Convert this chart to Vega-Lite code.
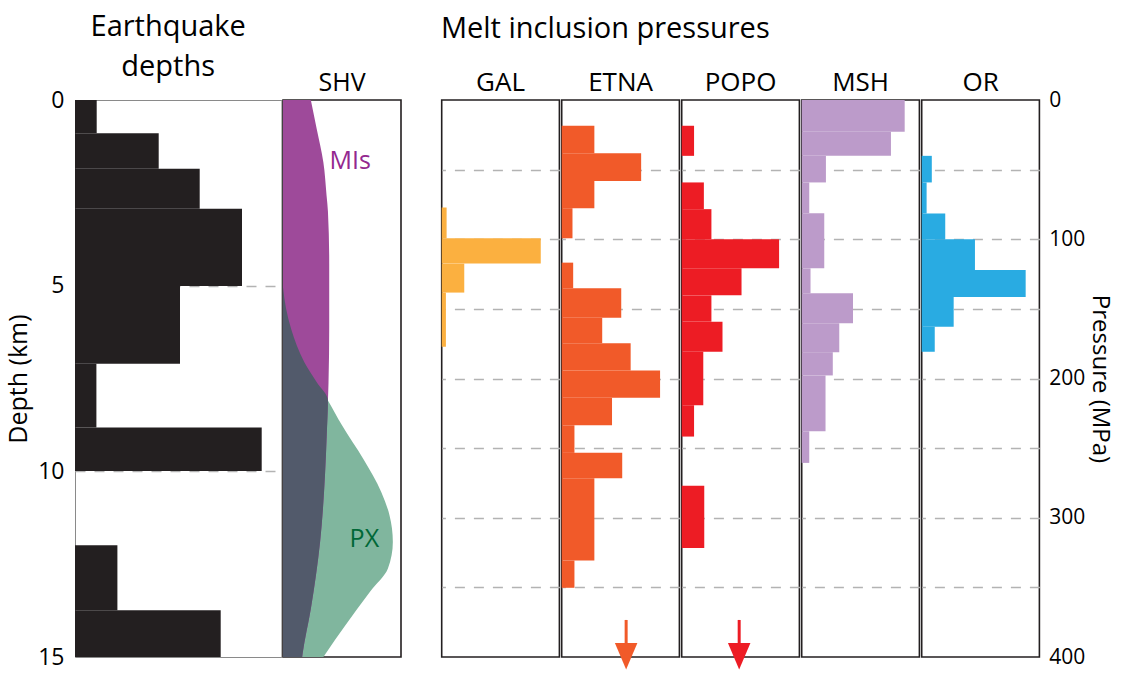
{
  "$schema": "https://vega.github.io/schema/vega-lite/v6.json",
  "background": "white",
  "padding": {"left": 6, "top": 12, "right": 2, "bottom": 5},
  "config": {
    "font": "Open Sans",
    "view": {"stroke": "#231f20", "strokeWidth": 1.6},
    "axis": {"labelFont": "Open Sans", "titleFont": "Open Sans", "labelColor": "#000", "titleColor": "#000", "titleFontWeight": "normal"},
    "title": {"font": "Open Sans", "fontWeight": "normal", "color": "#000"},
    "header": {"labelFont": "Open Sans", "labelColor": "#000"}
  },
  "resolve": {"scale": {"color": "independent"}},
  "spacing": 38.7,
  "hconcat": [
    {
      "spacing": 0,
      "hconcat": [
        {
          "width": 206.4,
          "height": 557,
          "view": {"stroke": "#8a8a8a", "strokeWidth": 1},
          "title": {"text": ["Earthquake", "depths"], "fontSize": 29, "lineHeight": 40, "anchor": "middle", "dx": -10, "offset": 7},
          "data": {"values": [
            {"top": 0, "bottom": 0.894, "count": 21.7},
            {"top": 0.894, "bottom": 1.852, "count": 83.7},
            {"top": 1.852, "bottom": 2.929, "count": 124.7},
            {"top": 2.929, "bottom": 5.01, "count": 167},
            {"top": 5.01, "bottom": 7.1, "count": 105},
            {"top": 7.1, "bottom": 8.82, "count": 21.4},
            {"top": 8.82, "bottom": 9.99, "count": 186.7},
            {"top": 11.99, "bottom": 13.74, "count": 42.4},
            {"top": 13.74, "bottom": 15, "count": 145.7}
          ]},
          "mark": {"type": "rect", "color": "#231f20"},
          "encoding": {
            "y": {"field": "top", "type": "quantitative",
              "scale": {"domain": [0, 15], "reverse": true, "nice": false},
              "axis": {"values": [0, 5, 10, 15], "title": "Depth (km)", "titleFontSize": 25, "labelFontSize": 23,
                "ticks": false, "domain": false, "labelPadding": 11, "titlePadding": 6,
                "grid": true, "gridDash": [10, 9], "gridColor": "#b3b3b3", "gridWidth": 1.3,
                "gridOpacity": {"condition": {"test": "datum.value == 0 || datum.value == 15", "value": 0}, "value": 1}}},
            "y2": {"field": "bottom"},
            "x": {"field": "count", "type": "quantitative", "scale": {"domain": [0, 206.4]}, "axis": null},
            "x2": {"datum": 0}
          }
        },
        {
          "width": 118,
          "height": 557,
          "title": {"text": "SHV", "fontSize": 25, "offset": 4},
          "data": {"values": [
            {"shape": "PX", "depth": 5.04, "w": 0},
            {"shape": "PX", "depth": 5.6, "w": 3},
            {"shape": "PX", "depth": 6.17, "w": 8.3},
            {"shape": "PX", "depth": 7.06, "w": 21.7},
            {"shape": "PX", "depth": 7.6, "w": 34.3},
            {"shape": "PX", "depth": 8.09, "w": 45.7},
            {"shape": "PX", "depth": 8.76, "w": 60},
            {"shape": "PX", "depth": 9.67, "w": 81.7},
            {"shape": "PX", "depth": 10.56, "w": 100},
            {"shape": "PX", "depth": 11.18, "w": 108.3},
            {"shape": "PX", "depth": 11.9, "w": 111.7},
            {"shape": "PX", "depth": 12.62, "w": 106.7},
            {"shape": "PX", "depth": 13.25, "w": 88.3},
            {"shape": "PX", "depth": 14.15, "w": 63.3},
            {"shape": "PX", "depth": 14.91, "w": 43.3},
            {"shape": "PX", "depth": 15, "w": 41},
            {"shape": "MIs", "depth": 0, "w": 28.3},
            {"shape": "MIs", "depth": 0.78, "w": 34.3},
            {"shape": "MIs", "depth": 1.67, "w": 41},
            {"shape": "MIs", "depth": 2.57, "w": 44.3},
            {"shape": "MIs", "depth": 3.0, "w": 45.7},
            {"shape": "MIs", "depth": 4.4, "w": 47},
            {"shape": "MIs", "depth": 6.15, "w": 47},
            {"shape": "MIs", "depth": 7.6, "w": 46.3},
            {"shape": "MIs", "depth": 8.09, "w": 45.7},
            {"shape": "MIs", "depth": 9.0, "w": 44.5},
            {"shape": "MIs", "depth": 10.1, "w": 42.7},
            {"shape": "MIs", "depth": 11.9, "w": 37.7},
            {"shape": "MIs", "depth": 13.7, "w": 28.3},
            {"shape": "MIs", "depth": 14.9, "w": 20},
            {"shape": "MIs", "depth": 15, "w": 19.5},
            {"shape": "both", "depth": 5.04, "w": 0},
            {"shape": "both", "depth": 5.6, "w": 3},
            {"shape": "both", "depth": 6.17, "w": 8.3},
            {"shape": "both", "depth": 7.06, "w": 21.7},
            {"shape": "both", "depth": 7.6, "w": 34.3},
            {"shape": "both", "depth": 8.09, "w": 45.7},
            {"shape": "both", "depth": 9.0, "w": 44.5},
            {"shape": "both", "depth": 10.1, "w": 42.7},
            {"shape": "both", "depth": 11.9, "w": 37.7},
            {"shape": "both", "depth": 13.7, "w": 28.3},
            {"shape": "both", "depth": 14.9, "w": 20},
            {"shape": "both", "depth": 15, "w": 19.5}
          ]},
          "layer": [
            {
              "transform": [{"filter": "datum.shape === 'PX'"}],
              "mark": {"type": "area", "orient": "horizontal", "interpolate": "monotone", "color": "#80b69e", "opacity": 1},
              "encoding": {
                "y": {"field": "depth", "type": "quantitative", "scale": {"domain": [0, 15], "reverse": true, "nice": false}, "axis": null},
                "x": {"field": "w", "type": "quantitative", "scale": {"domain": [0, 118]}, "axis": null}
              }
            },
            {
              "transform": [{"filter": "datum.shape === 'MIs'"}],
              "mark": {"type": "area", "orient": "horizontal", "interpolate": "monotone", "color": "#9e4a9a", "opacity": 1},
              "encoding": {
                "y": {"field": "depth", "type": "quantitative"},
                "x": {"field": "w", "type": "quantitative"}
              }
            },
            {
              "transform": [{"filter": "datum.shape === 'both'"}],
              "mark": {"type": "area", "orient": "horizontal", "interpolate": "monotone", "color": "#525a6b", "opacity": 1},
              "encoding": {
                "y": {"field": "depth", "type": "quantitative"},
                "x": {"field": "w", "type": "quantitative"}
              }
            },
            {
              "data": {"values": [
                {"label": "MIs", "depth": 1.63, "w": 68.3}
              ]},
              "mark": {"type": "text", "fontSize": 25, "align": "center", "baseline": "middle", "color": "#93278f"},
              "encoding": {
                "y": {"field": "depth", "type": "quantitative"},
                "x": {"field": "w", "type": "quantitative"},
                "text": {"field": "label"}
              }
            },
            {
              "data": {"values": [
                {"label": "PX", "depth": 11.81, "w": 82.7}
              ]},
              "mark": {"type": "text", "fontSize": 25, "align": "center", "baseline": "middle", "color": "#006837"},
              "encoding": {
                "y": {"field": "depth", "type": "quantitative"},
                "x": {"field": "w", "type": "quantitative"},
                "text": {"field": "label"}
              }
            }
          ]
        }
      ]
    },
    {
      "title": {"text": "Melt inclusion pressures", "fontSize": 29, "offset": 26},
      "data": {"values": [
        {"volcano": "GAL", "kind": "bar", "p1": 77.2, "p2": 99.3, "freq": 5},
        {"volcano": "GAL", "kind": "bar", "p1": 99.3, "p2": 117.5, "freq": 101},
        {"volcano": "GAL", "kind": "bar", "p1": 117.5, "p2": 138.3, "freq": 23},
        {"volcano": "GAL", "kind": "bar", "p1": 138.3, "p2": 177.2, "freq": 4.3},
        {"volcano": "ETNA", "kind": "bar", "p1": 18.5, "p2": 38.3, "freq": 33.3},
        {"volcano": "ETNA", "kind": "bar", "p1": 38.3, "p2": 58.1, "freq": 81},
        {"volcano": "ETNA", "kind": "bar", "p1": 58.1, "p2": 77.7, "freq": 33.3},
        {"volcano": "ETNA", "kind": "bar", "p1": 77.7, "p2": 99.3, "freq": 11},
        {"volcano": "ETNA", "kind": "bar", "p1": 116.8, "p2": 135.2, "freq": 11.7},
        {"volcano": "ETNA", "kind": "bar", "p1": 135.2, "p2": 156.3, "freq": 60.7},
        {"volcano": "ETNA", "kind": "bar", "p1": 156.3, "p2": 174.6, "freq": 41.3},
        {"volcano": "ETNA", "kind": "bar", "p1": 174.6, "p2": 194.2, "freq": 70.3},
        {"volcano": "ETNA", "kind": "bar", "p1": 194.2, "p2": 213.9, "freq": 100.3},
        {"volcano": "ETNA", "kind": "bar", "p1": 213.9, "p2": 233.6, "freq": 51.3},
        {"volcano": "ETNA", "kind": "bar", "p1": 233.6, "p2": 253.4, "freq": 13},
        {"volcano": "ETNA", "kind": "bar", "p1": 253.4, "p2": 271.7, "freq": 61.7},
        {"volcano": "ETNA", "kind": "bar", "p1": 271.7, "p2": 330.7, "freq": 33.3},
        {"volcano": "ETNA", "kind": "bar", "p1": 330.7, "p2": 350.3, "freq": 13},
        {"volcano": "POPO", "kind": "bar", "p1": 18.5, "p2": 40.1, "freq": 12.6},
        {"volcano": "POPO", "kind": "bar", "p1": 59.2, "p2": 78.4, "freq": 22.6},
        {"volcano": "POPO", "kind": "bar", "p1": 78.4, "p2": 100, "freq": 30.3},
        {"volcano": "POPO", "kind": "bar", "p1": 100, "p2": 120.9, "freq": 99.3},
        {"volcano": "POPO", "kind": "bar", "p1": 120.9, "p2": 140.3, "freq": 61},
        {"volcano": "POPO", "kind": "bar", "p1": 140.3, "p2": 159.2, "freq": 30.3},
        {"volcano": "POPO", "kind": "bar", "p1": 159.2, "p2": 180.8, "freq": 41.6},
        {"volcano": "POPO", "kind": "bar", "p1": 180.8, "p2": 219.2, "freq": 22},
        {"volcano": "POPO", "kind": "bar", "p1": 219.2, "p2": 241.7, "freq": 12.6},
        {"volcano": "POPO", "kind": "bar", "p1": 277, "p2": 321.8, "freq": 23},
        {"volcano": "MSH", "kind": "bar", "p1": 0, "p2": 22.8, "freq": 105},
        {"volcano": "MSH", "kind": "bar", "p1": 22.8, "p2": 40.1, "freq": 91},
        {"volcano": "MSH", "kind": "bar", "p1": 40.1, "p2": 59.2, "freq": 24.7},
        {"volcano": "MSH", "kind": "bar", "p1": 59.2, "p2": 81.3, "freq": 7.7},
        {"volcano": "MSH", "kind": "bar", "p1": 81.3, "p2": 120.9, "freq": 23},
        {"volcano": "MSH", "kind": "bar", "p1": 120.9, "p2": 138.8, "freq": 9},
        {"volcano": "MSH", "kind": "bar", "p1": 138.8, "p2": 160.4, "freq": 52.3},
        {"volcano": "MSH", "kind": "bar", "p1": 160.4, "p2": 181.1, "freq": 38.3},
        {"volcano": "MSH", "kind": "bar", "p1": 181.1, "p2": 197.8, "freq": 31.7},
        {"volcano": "MSH", "kind": "bar", "p1": 197.8, "p2": 237.9, "freq": 24.3},
        {"volcano": "MSH", "kind": "bar", "p1": 237.9, "p2": 260.6, "freq": 7.7},
        {"volcano": "OR", "kind": "bar", "p1": 40.1, "p2": 59.2, "freq": 10.3},
        {"volcano": "OR", "kind": "bar", "p1": 59.2, "p2": 81.5, "freq": 5},
        {"volcano": "OR", "kind": "bar", "p1": 81.5, "p2": 100, "freq": 24},
        {"volcano": "OR", "kind": "bar", "p1": 100, "p2": 122.1, "freq": 54.3},
        {"volcano": "OR", "kind": "bar", "p1": 122.1, "p2": 141.5, "freq": 106},
        {"volcano": "OR", "kind": "bar", "p1": 141.5, "p2": 162.8, "freq": 32.6},
        {"volcano": "OR", "kind": "bar", "p1": 162.8, "p2": 180.8, "freq": 13.3},
        {"volcano": "ETNA", "kind": "arrow", "p1": 373.4, "p2": 392, "ph": 399.5, "freq": 65.7},
        {"volcano": "POPO", "kind": "arrow", "p1": 373.4, "p2": 392, "ph": 399.5, "freq": 58.6}
      ]},
      "spacing": 0,
      "facet": {
        "column": {"field": "volcano", "type": "nominal", "sort": ["GAL", "ETNA", "POPO", "MSH", "OR"],
          "header": {"title": null, "labelFontSize": 26, "labelPadding": 3, "labelOrient": "top"}}
      },
      "spec": {
        "width": 117.7,
        "height": 557,
        "layer": [
          {
            "transform": [{"filter": "datum.kind === 'bar'"}],
            "mark": {"type": "rect"},
            "encoding": {
              "y": {"field": "p1", "type": "quantitative",
                "scale": {"domain": [0, 400], "reverse": true, "nice": false},
                "axis": {"orient": "right", "values": [0, 50, 100, 150, 200, 250, 300, 350, 400],
                  "labelExpr": "datum.value % 100 === 0 ? datum.label : ''",
                  "title": "Pressure (MPa)", "titleFontSize": 24, "labelFontSize": 21,
                  "ticks": false, "domain": false, "labelPadding": 8, "titlePadding": 3,
                  "grid": true, "gridDash": [10, 9], "gridColor": "#b3b3b3", "gridWidth": 1.3,
                  "gridOpacity": {"condition": {"test": "datum.value == 0 || datum.value == 400", "value": 0}, "value": 1}}},
              "y2": {"field": "p2"},
              "x": {"field": "freq", "type": "quantitative", "scale": {"domain": [0, 117.7]}, "axis": null},
              "x2": {"datum": 0},
              "color": {"field": "volcano", "type": "nominal",
                "scale": {"domain": ["GAL", "ETNA", "POPO", "MSH", "OR"], "range": ["#fbb040", "#f15a29", "#ed1c24", "#bc9bca", "#29abe2"]},
                "legend": null}
            }
          },
          {
            "transform": [{"filter": "datum.kind === 'arrow'"}],
            "mark": {"type": "rule", "strokeWidth": 3},
            "encoding": {
              "x": {"field": "freq", "type": "quantitative"},
              "y": {"field": "p1", "type": "quantitative"},
              "y2": {"field": "p2"},
              "color": {"field": "volcano", "type": "nominal"}
            }
          },
          {
            "transform": [{"filter": "datum.kind === 'arrow'"}],
            "mark": {"type": "point", "filled": true, "opacity": 1, "shape": "M-0.85,-1L0.85,-1L0,1Z", "size": 700},
            "encoding": {
              "x": {"field": "freq", "type": "quantitative"},
              "y": {"field": "ph", "type": "quantitative"},
              "color": {"field": "volcano", "type": "nominal"}
            }
          }
        ]
      }
    }
  ]
}
